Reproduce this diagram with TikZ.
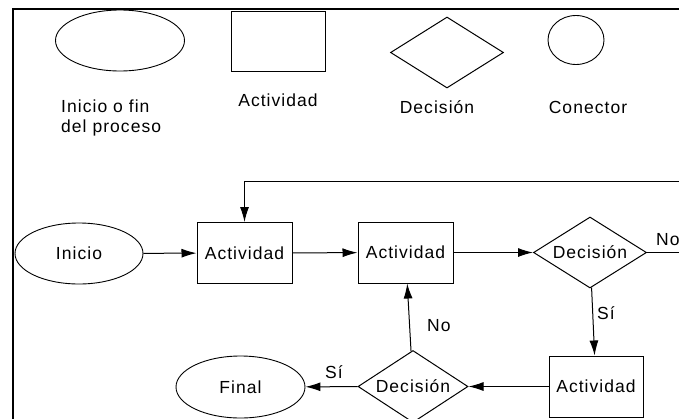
\documentclass[tikz,border=0pt]{standalone}
\usepackage{fontspec}
\setmainfont[LetterSpace=6]{Liberation Sans}
\usetikzlibrary{shapes.geometric,arrows.meta}
\begin{document}
\begin{tikzpicture}[x=1pt,y=-1pt,
  every node/.style={font=\fontsize{17.5}{20}\selectfont},
  ln/.style={line width=1pt},
  box/.style={draw, ln, rectangle, minimum width=95pt, minimum height=61pt, inner sep=0pt},
  term/.style={draw, line width=0.9pt, ellipse, minimum width=129pt, minimum height=62pt, inner sep=0pt},
  dec/.style={draw, ln, diamond, minimum width=113pt, minimum height=71pt, inner sep=0pt},
  lab/.style={inner sep=0pt},
  arr/.style={ln, -{Latex[length=15pt,width=9pt]}}]
\useasboundingbox (0,0) rectangle (679,418);
\fill[white] (0,0) rectangle (679,418);
\clip (0,0) rectangle (679,418);
\draw[line width=2pt] (13,9) rectangle (900,900);
% legend
\node[term, minimum width=129pt, minimum height=61pt] (lgEll) at (120,40.5) {};
\node[box, minimum width=94pt, minimum height=60pt] (lgBox) at (278,41) {};
\node[dec] (lgDec) at (447,52.5) {};
\node[draw, line width=0.9pt, ellipse, minimum width=56pt, minimum height=49pt, inner sep=0pt] (lgCon) at (576,40) {};
\node[lab, anchor=north west, align=left] (lgEllT) at (61,100) {Inicio o fin\\del proceso};
\node[lab] (lgBoxT) at (278,100) {Actividad};
\node[lab] (lgDecT) at (437,107) {Decisión};
\node[lab] (lgConT) at (588,107) {Conector};
% main flow
\node[term, minimum width=128pt, minimum height=61pt] (inicio) at (79,253.5) {Inicio};
\node[box] (act1) at (244.5,253) {Actividad};
\node[box] (act2) at (405.5,252.5) {Actividad};
\node[dec] (dec1) at (590,252.5) {\makebox[0pt]{Decisión}};
\node[box, minimum width=94pt] (act3) at (596,386.5) {Actividad};
\node[dec, minimum width=110pt, minimum height=72pt] (dec2) at (413,386.5) {\makebox[0pt]{Decisión}};
\node[term] (final) at (240.5,387) {Final};
\coordinate (loopR) at (720,252.5);
\coordinate (loopT) at (720,181);
% connectors
\draw[arr] (inicio) -- (act1);
\draw[arr] (act1) -- (act2);
\draw[arr] (act2) -- (dec1);
\draw[arr] (dec1) -- (act3);
\draw[arr] (act3) -- (dec2);
\draw[arr] (dec2) -- (act2);
\draw[arr] (dec2) -- (final);
\draw[arr] (dec1.east) -- (loopR) -- (loopT) -| (act1.north);
% labels
\node[lab, anchor=west] (noA) at (656,240) {No};
\node[lab, anchor=west] (siA) at (597,313) {Sí};
\node[lab, anchor=west] (noB) at (427,326) {No};
\node[lab] (siB) at (334,372) {Sí};
\end{tikzpicture}
\end{document}
